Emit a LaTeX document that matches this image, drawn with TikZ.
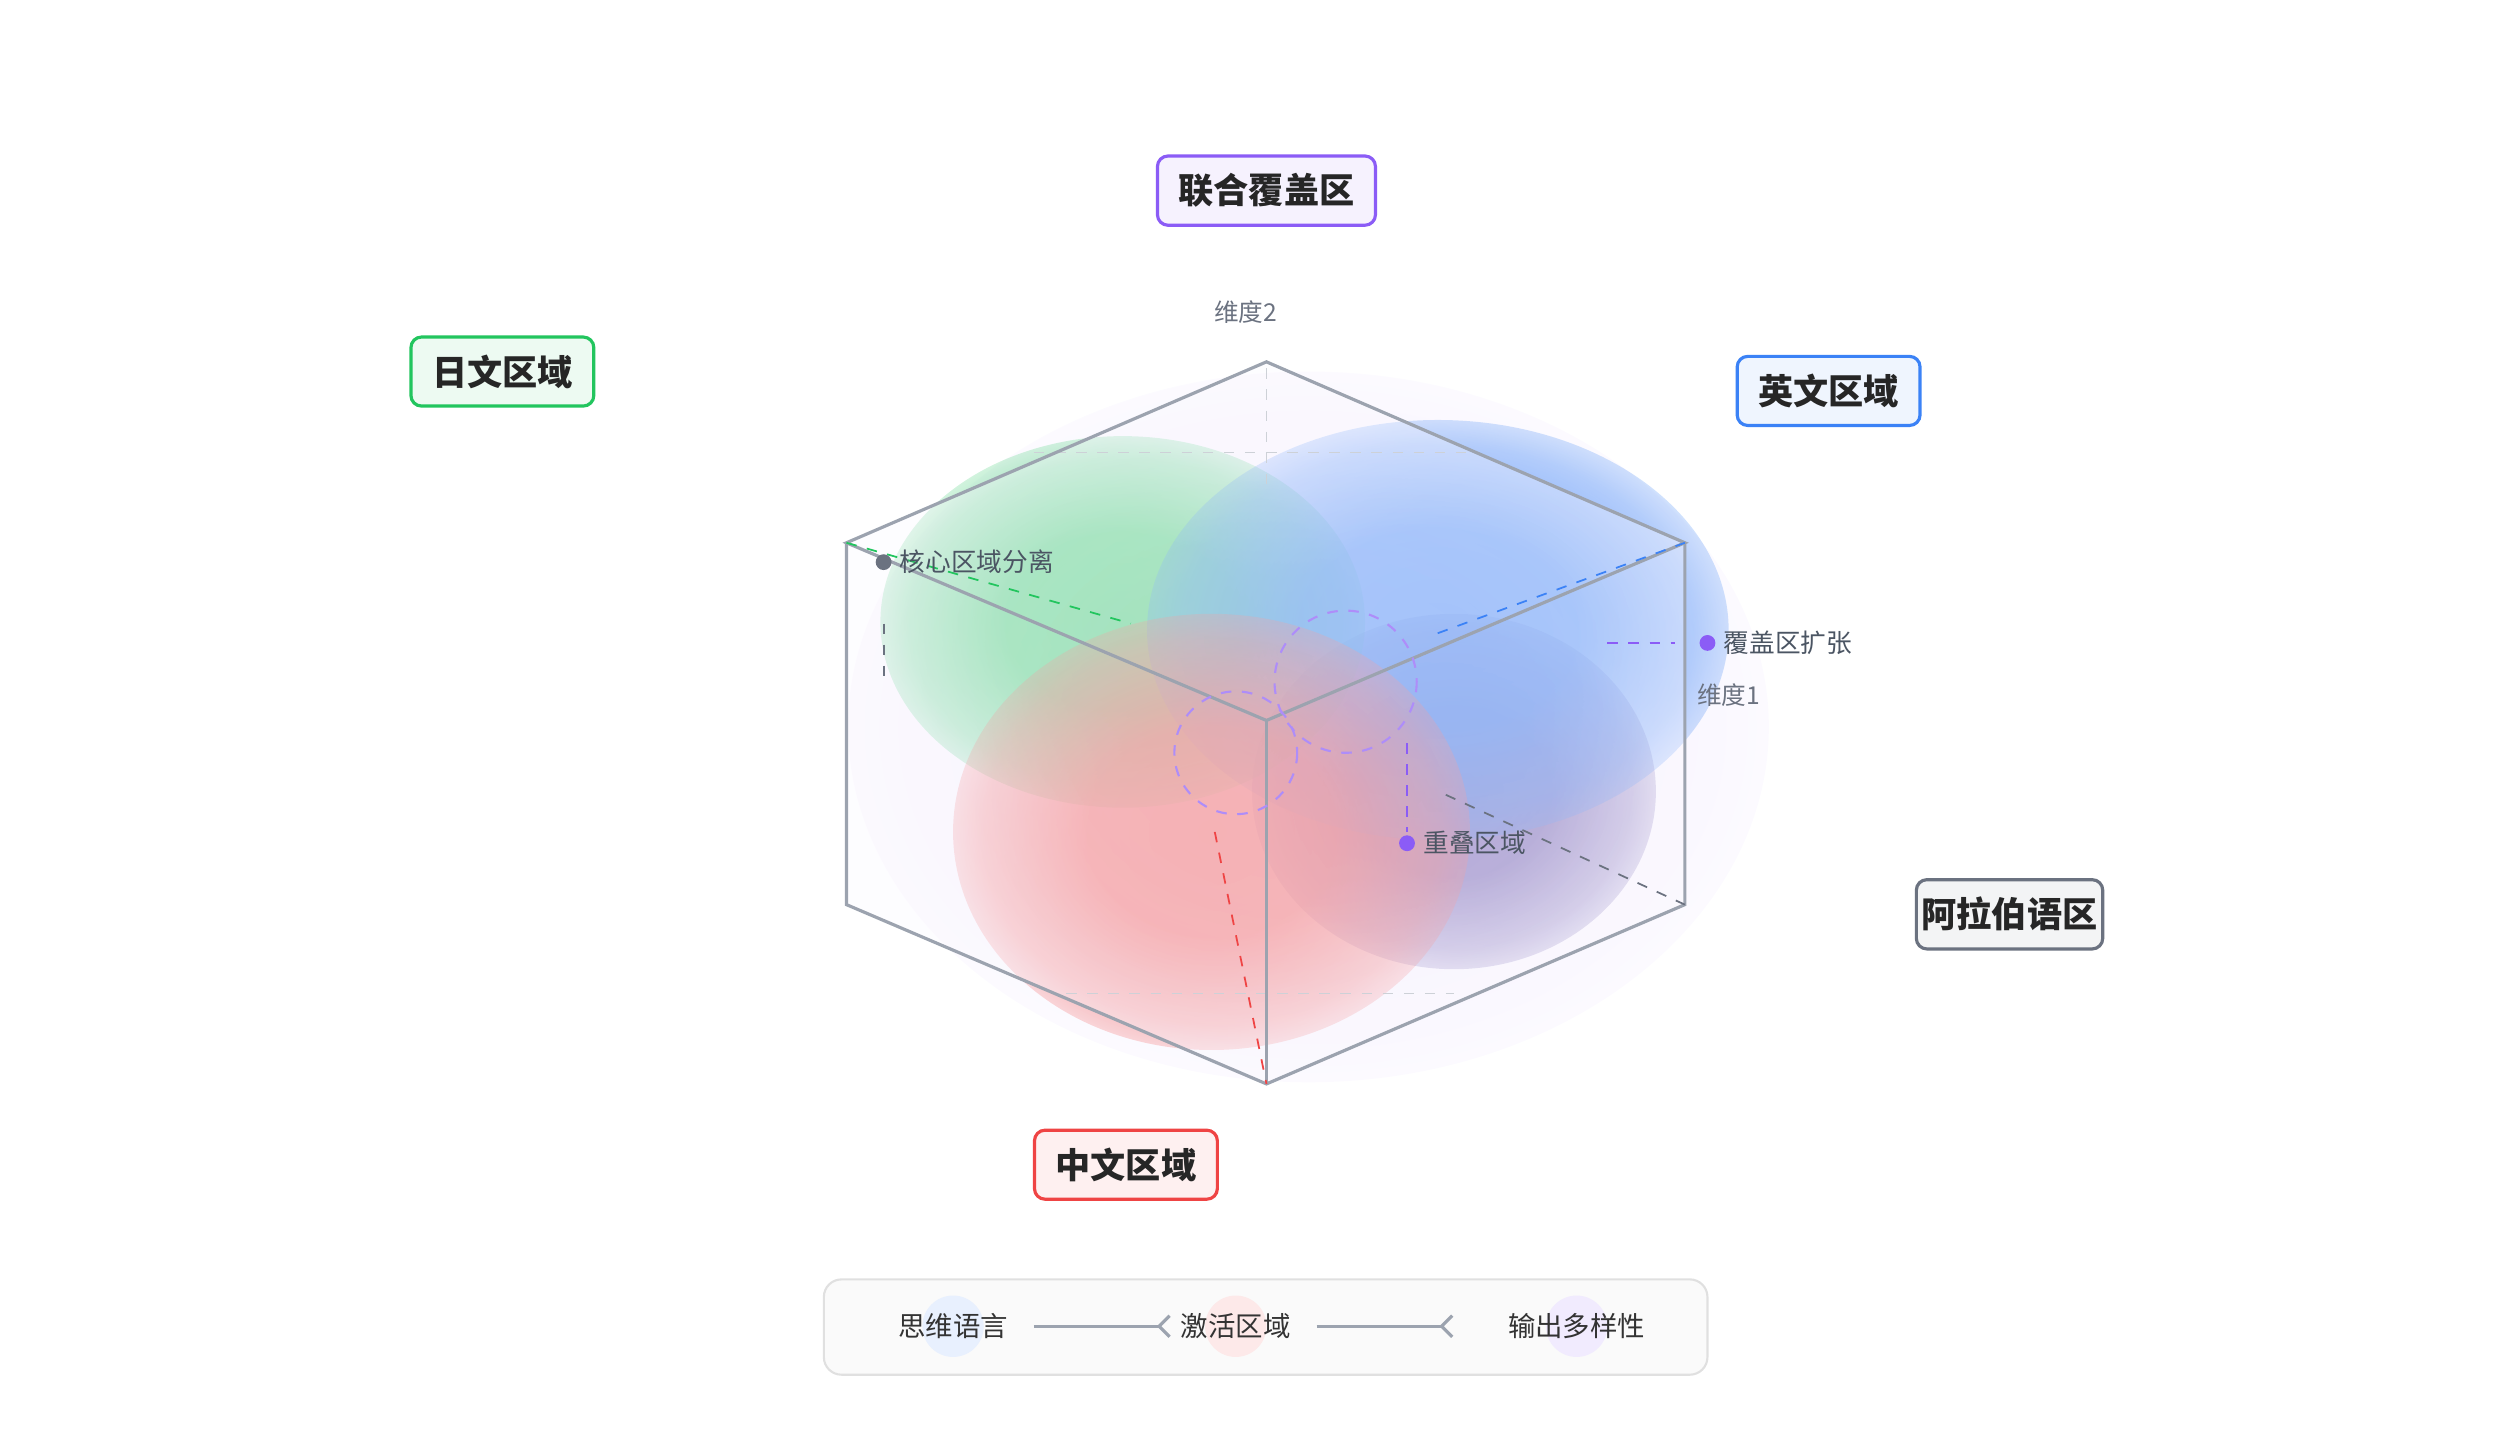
\documentclass[tikz,border=0pt]{standalone}
\usepackage{fontspec}
\setmainfont{Noto Sans CJK SC}
\usetikzlibrary{fadings,arrows.meta}
\definecolor{edgegray}{HTML}{9CA3AF}
\definecolor{txtgray}{HTML}{4B5563}
\definecolor{purp}{HTML}{8B5CF6}
\definecolor{grn}{HTML}{22C55E}
\definecolor{blu}{HTML}{3B82F6}
\definecolor{rd}{HTML}{EF4444}
\definecolor{slate}{HTML}{6B7280}
\pgfdeclareradialshading{softshade}{\pgfpoint{0bp}{0bp}}{color(0bp)=(pgftransparent!0); color(12bp)=(pgftransparent!5); color(22bp)=(pgftransparent!45); color(30bp)=(pgftransparent!100); color(50bp)=(pgftransparent!100)}
\pgfdeclarefading{softedge}{\pgfuseshading{softshade}}
\tikzset{
  regionbox/.style={draw=#1, fill=#1!8, line width=0.9pt, rounded corners=3pt,
    inner xsep=6pt, inner ysep=5pt, font=\bfseries\fontsize{10}{12}\selectfont, text=black!85},
  blob/.style={fill=#1, path fading=softedge, fill opacity=0.8},
  cubeedge/.style={draw=edgegray, line width=0.9pt},
  hidden/.style={draw=edgegray!50, dashed, line width=0.4pt},
  note/.style={font=\fontsize{7.3}{9}\selectfont, text=txtgray, anchor=west, inner sep=2pt},
  guide/.style={dashed, line width=0.5pt},
  ldot/.style={circle, fill=#1, inner sep=0pt, minimum size=4.5pt},
  legtext/.style={font=\fontsize{7.8}{9}\selectfont, text=black!80},
  legarrow/.style={edgegray, line width=0.9pt, -{Straight Barb[reversed,length=3pt,width=6pt]}}
}
\begin{document}
\begin{tikzpicture}[x=0.01615cm,y=-0.01615cm]
\useasboundingbox (0,0) rectangle (1560,891);
% background cloud and language blobs
\fill[purp!10, path fading=softedge, fill opacity=0.8] (810,450) ellipse (285 and 220);
\fill[blob=purp!45!slate] (900,490) ellipse (125 and 110);
\fill[blob=grn!75] (695,385) ellipse (150 and 115);
\fill[blob=blu!85] (890,390) ellipse (180 and 130);
\fill[blob=rd!75] (750,515) ellipse (160 and 135);
% cube corners
\coordinate (T) at (784,224);
\coordinate (UL) at (524,336);
\coordinate (UR) at (1043,336);
\coordinate (C) at (784,446);
\coordinate (LL) at (524,560);
\coordinate (LR) at (1043,560);
\coordinate (B) at (784,671);
\fill[purp!4, fill opacity=0.35] (T) -- (UR) -- (LR) -- (B) -- (LL) -- (UL) -- cycle;
\draw[hidden] (640,280) -- (910,280);
\draw[hidden] (784,228) -- (784,300);
\draw[hidden] (660,615) -- (900,615);
\draw[cubeedge] (UL) -- (T) -- (UR) -- (C) -- cycle;
\draw[cubeedge] (UL) -- (LL) -- (B) -- (LR) -- (UR);
\draw[cubeedge] (C) -- (B);
% overlap circles
\draw[purp!70, dashed, line width=0.6pt] (833,422) circle (44);
\draw[purp!70, dashed, line width=0.6pt] (765,466) circle (38);
% guide lines
\draw[guide, grn] (UL) -- (700,386);
\draw[guide, blu] (890,392) -- (UR);
\draw[guide, slate] (895,492) -- (LR);
\draw[guide, rd] (752,515) -- (B);
\draw[guide, purp] (871,460) -- (871,515);
\draw[guide, purp] (995,398) -- (1037,398);
\draw[guide, slate] (547,386) -- (547,420);
% annotations
\node[ldot=slate] (d1) at (547,348) {};
\node[note] at (d1.east) {核心区域分离};
\node[ldot=purp] (d2) at (1057,398) {};
\node[note] at (d2.east) {覆盖区扩张};
\node[ldot=purp] (d3) at (871,522) {};
\node[note] at (d3.east) {重叠区域};
\node[font=\fontsize{7}{9}\selectfont, text=slate] (ax2) at (771,193) {维度2};
\node[font=\fontsize{7}{9}\selectfont, text=slate] (ax1) at (1070,430) {维度1};
% region labels
\node[regionbox=purp] (union) at (784,118) {联合覆盖区};
\node[regionbox=grn] (ja) at (311,230) {日文区域};
\node[regionbox=blu] (en) at (1132,242) {英文区域};
\node[regionbox=slate, inner xsep=1.5pt] (ar) at (1244,566) {阿拉伯语区};
\node[regionbox=rd] (zh) at (697,721) {中文区域};
% legend
\draw[draw=black!12, fill=black!2, rounded corners=5pt, line width=0.6pt] (510,792) rectangle (1057,851);
\fill[blu!12] (590,821) circle (19);
\fill[rd!12] (765,821) circle (19);
\fill[purp!12] (976,821) circle (19);
\node[legtext] (l1) at (590,821) {思维语言};
\node[legtext] (l2) at (765,821) {激活区域};
\node[legtext] (l3) at (976,821) {输出多样性};
\coordinate (a1) at (640,821);
\coordinate (a2) at (725,821);
\coordinate (a3) at (815,821);
\coordinate (a4) at (900,821);
\draw[legarrow] (a1) -- (a2);
\draw[legarrow] (a3) -- (a4);
\end{tikzpicture}
\end{document}
